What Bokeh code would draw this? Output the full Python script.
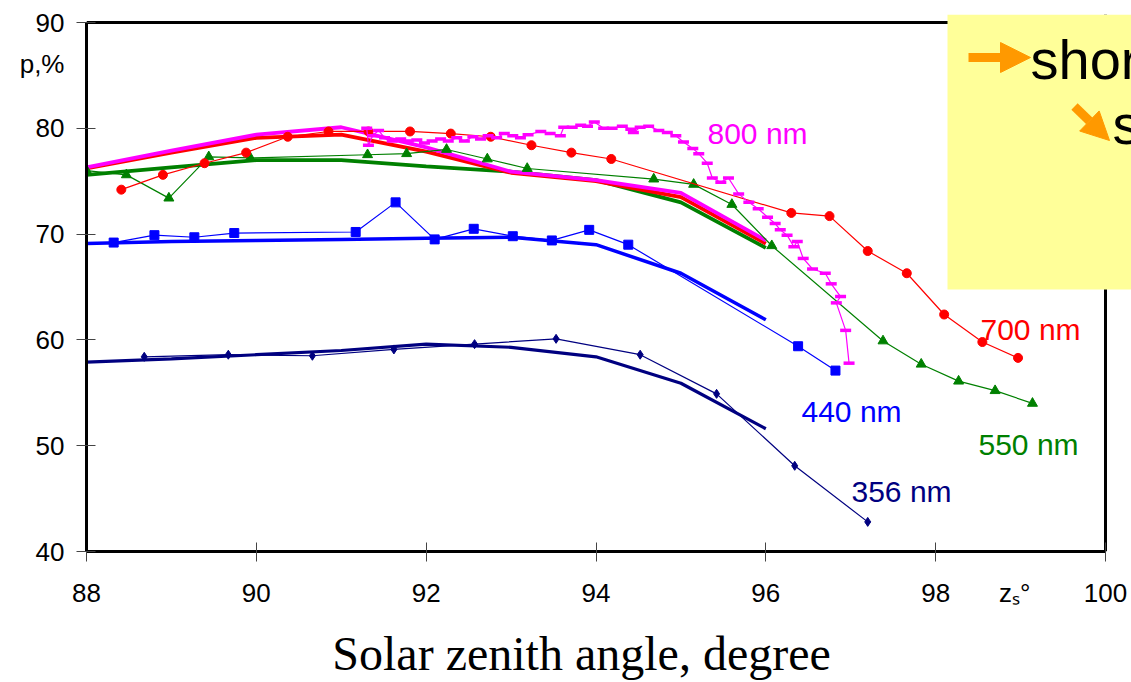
from bokeh.plotting import figure
from bokeh.models import (Label, BoxAnnotation, Arrow, NormalHead, Span,
                          FixedTicker, LinearAxis)
from bokeh.embed import file_html
from bokeh.resources import INLINE

# ---------------- data ----------------
x_model = [88, 89, 90, 91, 92, 93, 94, 95, 96]
model_800 = [76.3, 77.9, 79.4, 80.1, 78.2, 75.9, 75.1, 73.9, 69.4]
model_700 = [76.2, 77.7, 79.1, 79.4, 77.8, 75.8, 75.0, 73.5, 69.1]
model_550 = [75.6, 76.3, 77.0, 77.0, 76.4, 75.9, 75.1, 73.0, 68.7]
model_440 = [69.1, 69.3, 69.4, 69.5, 69.6, 69.7, 69.0, 66.3, 61.9]
model_356 = [57.9, 58.2, 58.6, 59.0, 59.6, 59.3, 58.4, 55.9, 51.6]

x_356 = [88.68, 89.67, 90.66, 91.62, 92.57, 93.53, 94.52, 95.42, 96.34, 97.20]
p_356 = [58.4, 58.6, 58.5, 59.1, 59.6, 60.1, 58.6, 54.9, 48.1, 42.8]

x_440 = [88.32, 88.80, 89.27, 89.74, 91.17, 91.64, 92.10, 92.56, 93.02, 93.48,
         93.92, 94.38, 96.38, 96.82]
p_440 = [69.2, 69.9, 69.7, 70.1, 70.2, 73.0, 69.5, 70.5, 69.8, 69.4,
         70.4, 69.0, 59.4, 57.1]

x_550 = [88.00, 88.47, 88.97, 89.44, 89.93, 91.31, 91.77, 92.24, 92.72, 93.19,
         94.68, 95.15, 95.60, 96.07, 97.38, 97.83, 98.27, 98.70, 99.14]
p_550 = [76.0, 75.6, 73.4, 77.3, 77.2, 77.5, 77.6, 78.0, 77.1, 76.2,
         75.2, 74.7, 72.8, 68.9, 59.9, 57.7, 56.1, 55.2, 54.0]

x_700 = [88.41, 88.90, 89.39, 89.88, 90.37, 90.85, 91.32, 91.81, 92.29, 92.76,
         93.24, 93.71, 94.18, 96.30, 96.75, 97.20, 97.66, 98.10, 98.55, 98.97]
p_700 = [74.2, 75.6, 76.7, 77.7, 79.2, 79.7, 79.7, 79.7, 79.5, 79.2,
         78.4, 77.7, 77.1, 72.0, 71.7, 68.4, 66.3, 62.4, 59.8, 58.3]

x_800 = [91.30, 91.32, 91.37, 91.44, 91.51, 91.60, 91.70, 91.79, 91.89, 91.98,
         92.07, 92.17, 92.26, 92.36, 92.45, 92.55, 92.64, 92.73, 92.83, 92.92,
         93.02, 93.11, 93.20, 93.35, 93.46, 93.58, 93.62, 93.72, 93.82, 93.90,
         93.98, 94.09, 94.19, 94.31, 94.41, 94.44, 94.52, 94.62, 94.74, 94.84,
         94.94, 95.03, 95.14, 95.21, 95.31, 95.37, 95.47, 95.56, 95.68, 95.80,
         95.91, 96.02, 96.11, 96.17, 96.25, 96.33, 96.37, 96.44, 96.55, 96.70,
         96.77, 96.88, 96.83, 96.94, 96.98]
p_800 = [80.0, 78.4, 79.3, 79.8, 79.1, 78.8, 79.0, 78.8, 78.9, 78.6,
         78.8, 79.0, 78.8, 79.1, 78.8, 79.2, 79.0, 79.3, 79.1, 79.5,
         79.3, 79.1, 79.4, 79.7, 79.5, 79.3, 80.1, 80.1, 80.3, 80.2,
         80.6, 80.0, 80.0, 80.2, 79.9, 79.6, 80.1, 80.2, 79.8, 79.6,
         79.3, 78.7, 78.1, 77.6, 76.7, 75.3, 74.9, 75.3, 73.8, 73.0,
         72.4, 71.6, 71.0, 70.4, 69.9, 68.8, 69.3, 67.7, 66.7, 66.3,
         65.3, 64.1, 63.5, 60.9, 57.8]

x_ticks = [88, 90, 92, 94, 96, 98, 100]
y_ticks = [40, 50, 60, 70, 80, 90]
x_unit_pos, x_unit_text = 98.93, "z\u209b\u00b0"
y_unit_pos, y_unit_text = 86.1, "p,%"

series_labels = ["800 nm", "700 nm", "440 nm", "550 nm", "356 nm"]
x_title = "Solar zenith angle, degree"
x_title_pos = 93.83

# ---------------- figure ----------------
W, H = 1131, 682
# frame spans page x 86..1131, y 14..551; data 88..100 -> 86..1105, 40..90 -> 551..22
X_END = 88 + 12.0 * (1131 - 86) / 1019.0
Y_END = 40 + 50.0 * (551 - 14) / 529.0
p = figure(width=W, height=H, x_range=(88, X_END), y_range=(40, Y_END),
           output_backend="svg", toolbar_location=None,
           min_border_left=86, min_border_right=0,
           min_border_top=14, min_border_bottom=131)
p.background_fill_color = "white"
p.border_fill_color = "white"
p.grid.visible = False
p.outline_line_color = None

p.xaxis.ticker = FixedTicker(ticks=x_ticks + [x_unit_pos], minor_ticks=x_ticks)
p.yaxis.ticker = FixedTicker(ticks=y_ticks + [y_unit_pos], minor_ticks=y_ticks)
p.xaxis.major_label_overrides = {x_unit_pos: x_unit_text}
p.yaxis.major_label_overrides = {y_unit_pos: y_unit_text}
p.xaxis.bounds = (88, 100)
p.yaxis.bounds = (40, 90)
for ax in (p.xaxis[0], p.yaxis[0]):
    ax.axis_line_color = "black"
    ax.axis_line_width = 3
    ax.major_tick_line_color = None
    ax.major_tick_in = 0
    ax.major_tick_out = 10
    ax.minor_tick_line_color = "#444444"
    ax.minor_tick_line_width = 1
    ax.minor_tick_in = 9
    ax.minor_tick_out = 10
    ax.major_label_text_font = "Liberation Sans"
    ax.major_label_text_font_size = "26px"
    ax.major_label_text_color = "black"
p.xaxis.major_label_standoff = 16
p.yaxis.major_label_standoff = 12

# outer axis carrying the x title, centred where the original has it
title_axis = LinearAxis(ticker=FixedTicker(ticks=[x_title_pos], minor_ticks=[]),
                        major_label_overrides={x_title_pos: x_title},
                        axis_line_color=None, major_tick_line_color=None,
                        minor_tick_line_color=None,
                        major_tick_in=0, major_tick_out=0,
                        minor_tick_in=0, minor_tick_out=0,
                        major_label_standoff=16,
                        major_label_text_font="Liberation Serif",
                        major_label_text_font_size="48px",
                        major_label_text_color="black")
p.add_layout(title_axis, "below")

# right and top border of the box
p.add_layout(Span(location=100, dimension="height", line_color="black",
                  line_width=3, level="underlay"))
p.add_layout(Span(location=90, dimension="width", line_color="black",
                  line_width=3, level="underlay"))

# page px -> data helpers
def px2x(px):
    return 88 + (px - 86) * 12.0 / 1019.0

def py2y(py):
    return 40 + (551 - py) * 50.0 / 529.0

# model (thick) curves
p.line(x_model, model_356, line_color="#000080", line_width=3.2)
p.line(x_model, model_440, line_color="#0000FF", line_width=3.5)
p.line(x_model, model_550, line_color="#008000", line_width=3.8)
p.line(x_model, model_700, line_color="#FF0000", line_width=3.8)
p.line(x_model, model_800, line_color="#FF00FF", line_width=3.8)

# measured series
p.line(x_356, p_356, line_color="#000080", line_width=1.2)
p.scatter(x_356, p_356, marker="diamond", size=9, color="#000080")

p.line(x_440, p_440, line_color="#0000FF", line_width=1.2)
p.scatter(x_440, p_440, marker="square", size=9, color="#0000FF")

p.line(x_550, p_550, line_color="#008000", line_width=1.2)
p.scatter(x_550, p_550, marker="triangle", size=10, color="#008000")

p.line(x_700, p_700, line_color="#FF0000", line_width=1.2)
p.scatter(x_700, p_700, marker="circle", size=9, color="#FF0000")

p.line(x_800, p_800, line_color="#FF00FF", line_width=1.2)
p.scatter(x_800, p_800, marker="dash", size=11, line_width=3.5, color="#FF00FF")

# series labels
lab_font = "Liberation Sans"
for txt, px, py, col in [
    (series_labels[0], 707, 133, "#FF00FF"),
    (series_labels[1], 980, 329, "#FF0000"),
    (series_labels[2], 801, 411, "#0000FF"),
    (series_labels[3], 978, 444, "#008000"),
    (series_labels[4], 851, 491, "#000080"),
]:
    p.add_layout(Label(x=px2x(px), y=py2y(py), text=txt, text_font=lab_font,
                       text_font_size="30px", text_color=col,
                       text_baseline="alphabetic"))

# yellow note box
p.add_layout(BoxAnnotation(left=px2x(947), right=X_END, top=Y_END, bottom=py2y(289),
                           fill_color="#FFFF99", fill_alpha=1.0, line_color=None,
                           level="overlay"))
orange = "#FF9900"
p.add_layout(Arrow(end=NormalHead(size=30, fill_color=orange, line_color=orange),
                   x_start=px2x(968), y_start=py2y(57), x_end=px2x(1030), y_end=py2y(57),
                   line_color=orange, line_width=9, level="overlay"))
p.add_layout(Arrow(end=NormalHead(size=28, fill_color=orange, line_color=orange),
                   x_start=px2x(1074), y_start=py2y(106), x_end=px2x(1109), y_end=py2y(140),
                   line_color=orange, line_width=9, level="overlay"))
p.add_layout(Label(x=px2x(1030), y=py2y(59), text="short", text_font=lab_font,
                   text_font_size="56px", text_baseline="alphabetic", text_color="black",
                   level="overlay"))
p.add_layout(Label(x=px2x(1112), y=py2y(124), text="s", text_font=lab_font,
                   text_font_size="56px", text_baseline="alphabetic", text_color="black",
                   level="overlay"))

open("out.html", "w").write(file_html(p, INLINE))
